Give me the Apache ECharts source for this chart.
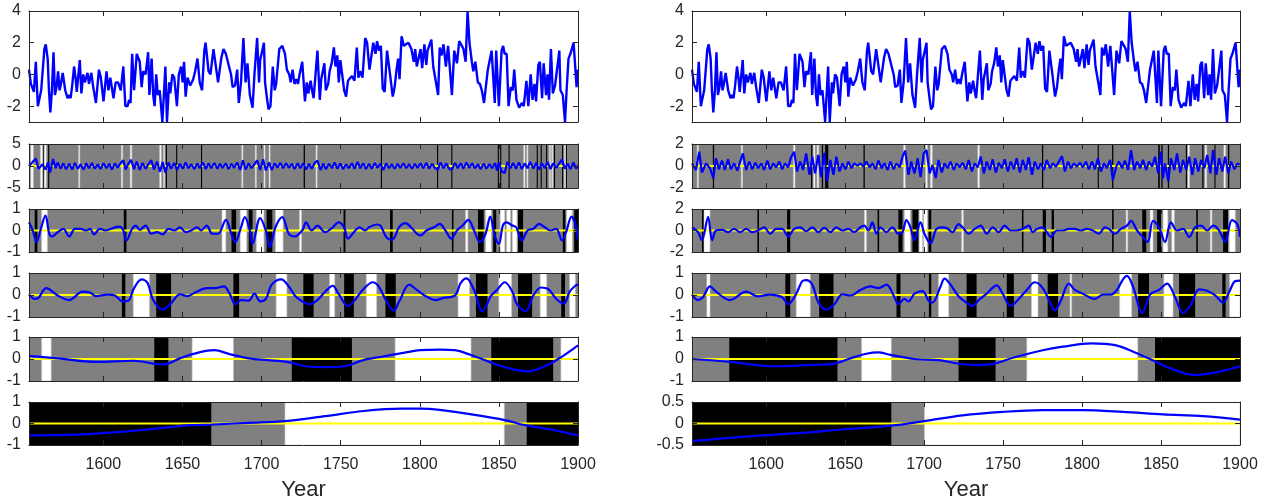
<!DOCTYPE html>
<html><head><meta charset="utf-8">
<script src="https://cdn.jsdelivr.net/npm/echarts@6/dist/echarts.min.js"></script>
<style>html,body{margin:0;padding:0;background:#fff}#c{width:1272px;height:501px}</style>
</head><body><div id="c"></div>
<script>
const X_MIN = 1553, X_MAX = 1900;
const xTickYears = [1600,1650,1700,1750,1800,1850,1900];

// Row 1 (both columns): original series
const seriesRaw = [[1553,0.3],[1554.2,-0.6],[1555.4,-0.7],[1556.1,-1.1],[1557.3,0.8],[1558.6,-2.0],[1559.8,-1.9],[1560.7,-1.0],[1561.5,-0.9],[1562.7,1.6],[1563.6,1.9],[1564.8,1.0],[1565.6,-1.0],[1566.5,-2.4],[1567.5,-1.0],[1568.5,1.4],[1569.4,-1.3],[1570.4,-0.8],[1571.4,0.2],[1572.3,-1.0],[1573.0,-0.7],[1574.3,0.1],[1575.2,0.0],[1575.9,-1.0],[1577.4,-1.5],[1578.4,-1.3],[1579.3,-1.5],[1580.3,-0.7],[1581.5,0.5],[1582.5,-0.3],[1583.2,-1.1],[1585.1,0.9],[1586.1,-1.2],[1587.3,0.0],[1588.3,-0.5],[1590.0,0.1],[1590.9,-0.6],[1592.4,0.1],[1593.6,-0.8],[1595.3,-1.8],[1597.2,0.3],[1598.4,-0.2],[1600.1,-1.7],[1602.0,0.2],[1603.2,-1.0],[1604.4,-0.2],[1606.4,-1.5],[1607.8,-0.5],[1609.3,-0.5],[1611.0,-1.0],[1612.6,0.5],[1613.9,-2.0],[1615.3,-2.0],[1616.3,-1.6],[1617.2,-1.8],[1618.2,1.3],[1619.4,-1.0],[1621.1,1.3],[1623.0,0.8],[1624.2,-0.8],[1625.2,0.2],[1626.7,0.0],[1628.3,1.4],[1629.1,-1.3],[1630.5,1.0],[1631.5,-1.3],[1632.4,-2.0],[1633.4,0.0],[1634.4,-1.3],[1635.6,-1.0],[1637.3,-3.0],[1639.2,0.5],[1640.2,-3.0],[1641.6,-0.5],[1642.3,-1.2],[1643.6,0.0],[1644.8,-0.2],[1645.5,-0.1],[1646.5,-2.0],[1647.7,0.0],[1649.1,0.5],[1650.1,-0.5],[1651.0,0.8],[1652.0,-1.4],[1653.2,-0.2],[1654.9,-0.7],[1656.8,-0.3],[1658.0,0.2],[1659.5,1.0],[1660.9,-0.5],[1662.4,-1.0],[1663.8,1.5],[1664.6,2.0],[1666.5,0.2],[1667.7,0.0],[1669.6,1.6],[1672.5,-0.5],[1674.5,1.0],[1675.9,1.6],[1677.4,1.3],[1678.6,1.2],[1680.7,0.0],[1681.7,-0.8],[1683.2,-0.7],[1684.6,0.3],[1685.6,-1.8],[1687.0,-0.5],[1688.5,2.3],[1689.9,-0.5],[1691.1,0.7],[1692.6,-1.3],[1694.3,-2.1],[1695.5,0.0],[1697.2,2.3],[1698.4,-0.5],[1699.1,0.9],[1700.1,0.9],[1701.5,2.0],[1702.2,-0.5],[1703.4,-1.5],[1704.4,-2.2],[1705.6,-2.0],[1707.1,0.5],[1708.3,-1.0],[1709.2,-0.6],[1711.2,1.6],[1712.4,1.5],[1713.1,1.8],[1714.8,1.3],[1716.0,0.3],[1717.5,0.0],[1718.4,-0.5],[1719.6,0.3],[1720.8,-0.6],[1722.0,-0.3],[1723.0,-0.6],[1724.0,0.0],[1725.7,0.8],[1727.4,-1.7],[1728.6,-0.5],[1729.5,-1.2],[1731.0,-0.4],[1731.9,-1.0],[1732.9,-1.5],[1735.3,1.5],[1736.8,-1.6],[1737.7,-0.3],[1739.7,0.7],[1740.6,-1.0],[1742.1,-0.6],[1743.0,0.2],[1744.3,0.7],[1745.7,1.7],[1746.7,0.5],[1747.9,1.2],[1748.8,-0.5],[1749.8,0.9],[1752.2,-1.0],[1753.4,-1.4],[1754.6,-0.4],[1755.8,-0.5],[1757.1,-0.1],[1758.7,-0.4],[1760.2,1.7],[1761.2,-0.2],[1762.4,0.2],[1763.8,-0.2],[1765.5,2.3],[1766.7,2.0],[1768.2,0.3],[1769.1,0.3],[1770.6,2.0],[1772.0,1.3],[1773.0,2.1],[1774.2,1.5],[1775.4,1.8],[1776.6,-0.9],[1777.8,-1.1],[1779.3,1.5],[1780.2,1.5],[1781.2,0.0],[1782.9,-1.4],[1784.1,-0.8],[1785.3,0.3],[1786.3,1.0],[1787.2,-0.3],[1788.5,2.4],[1789.9,1.8],[1791.3,1.9],[1792.8,2.0],[1793.8,1.8],[1794.7,1.6],[1796.2,0.8],[1797.1,1.6],[1798.1,0.5],[1799.3,0.4],[1800.5,1.6],[1801.5,0.4],[1802.9,1.9],[1804.1,0.6],[1804.9,1.5],[1807.3,2.2],[1808.5,0.5],[1809.7,0.4],[1811.6,-1.3],[1812.6,1.7],[1813.8,1.2],[1815.0,1.9],[1816.5,0.5],[1817.9,1.8],[1820.3,-1.3],[1821.8,1.5],[1823.5,0.7],[1824.9,2.1],[1826.6,1.8],[1827.6,1.6],[1829.0,0.8],[1830.2,4.0],[1831.4,2.0],[1832.9,0.8],[1833.8,0.2],[1835.1,0.8],[1836.7,-0.5],[1838.0,-0.6],[1839.2,-1.0],[1840.6,-1.8],[1841.6,-1.9],[1843.0,0.3],[1844.0,0.4],[1845.4,1.5],[1847.4,-1.8],[1848.3,1.5],[1850.0,-2.0],[1851.7,1.5],[1852.7,1.8],[1853.6,1.3],[1854.9,1.3],[1856.1,-2.0],[1857.5,-0.8],[1858.7,-1.0],[1859.7,0.3],[1861.1,-1.6],[1862.8,-2.1],[1864.5,-1.8],[1865.7,-2.0],[1867.4,-0.4],[1868.6,-2.0],[1870.1,0.0],[1871.3,-1.6],[1872.5,-0.6],[1873.5,-1.7],[1874.9,0.6],[1875.9,0.8],[1877.3,-1.5],[1878.3,0.7],[1879.8,-1.3],[1880.7,0.0],[1881.7,-1.6],[1882.9,1.6],[1884.1,-1.2],[1885.5,-0.7],[1886.7,-0.6],[1888.2,1.5],[1888.9,-1.0],[1890.4,-1.3],[1891.8,-3.0],[1892.8,-1.0],[1894.0,1.0],[1895.2,1.3],[1896.2,1.3],[1897.2,2.0],[1897.9,1.0],[1899.1,-0.8],[1900,0.3]];

// Row 2
const L2_line = [[1553,0],[1557.3,1.7],[1559,-0.6],[1561.5,0.4],[1563.4,-0.8],[1565.1,0.8],[1566.3,-1.5],[1568.2,1.6],[1569.9,-0.5],[1571.1,0.8],[1573,-0.6],[1574.7,0.6],[1576.4,-0.7],[1578.4,0.5],[1580.3,-0.8],[1582,0.7],[1583.9,-0.6],[1585.6,0.4],[1587.5,-0.8],[1589.2,0.6],[1590.9,-0.5],[1592.8,0.7],[1594.5,-0.6],[1596.5,0.4],[1598.2,-0.7],[1600.1,0.6],[1602,-0.5],[1603.7,0.5],[1605.4,-0.8],[1607.3,0.6],[1609,-0.4],[1611,0.7],[1612.6,1.3],[1614.1,-0.8],[1615.8,0.5],[1617.5,1.4],[1619.4,-0.7],[1621.1,1.0],[1623,-0.9],[1624.7,0.7],[1626.7,-0.6],[1628.6,0.5],[1630.3,1.3],[1632,-0.8],[1633.9,1.0],[1635.8,-1.3],[1637.5,0.9],[1639.2,-1.5],[1641.1,0.8],[1642.8,-0.6],[1644.8,0.7],[1646.5,-0.9],[1648.4,0.5],[1650.3,-0.6],[1652,0.8],[1653.7,-0.5],[1655.6,0.4],[1657.6,-0.7],[1659.3,0.6],[1660.9,-0.5],[1662.9,0.8],[1664.8,-0.7],[1666.5,0.6],[1668.2,-0.5],[1670.1,0.7],[1672.1,-0.6],[1673.7,0.5],[1675.4,-0.4],[1677.4,0.6],[1679.1,-0.7],[1681,0.5],[1682.7,-0.4],[1684.6,0.8],[1686.5,-0.9],[1688.2,1.3],[1689.9,-0.8],[1691.9,0.6],[1693.6,-0.5],[1695.5,0.4],[1697.2,1.3],[1699.1,-0.9],[1701,1.5],[1702.7,-1.0],[1704.7,0.8],[1706.4,-0.9],[1708.3,0.6],[1710,-0.4],[1711.9,0.7],[1713.6,-0.5],[1715.5,0.6],[1717.2,-0.4],[1719.1,0.5],[1720.8,-0.7],[1722.8,0.6],[1724.5,-0.5],[1726.4,0.6],[1728.1,-0.8],[1730,0.5],[1731.7,-0.6],[1733.6,0.7],[1735.3,1.2],[1737.3,-0.9],[1739,0.6],[1740.6,-0.7],[1742.6,0.5],[1744.5,-0.5],[1746.2,0.8],[1747.9,-0.6],[1749.8,0.6],[1751.5,-0.7],[1753.4,0.4],[1755.1,-0.5],[1757.1,0.6],[1758.8,-0.6],[1760.7,0.9],[1762.4,-0.5],[1764.3,0.6],[1766,-0.7],[1767.9,0.5],[1769.6,-0.6],[1771.6,0.7],[1773.2,-0.4],[1775.2,0.5],[1776.9,-0.9],[1778.8,0.6],[1780.5,-0.5],[1782.4,0.4],[1784.1,-0.6],[1786,0.5],[1787.7,-0.4],[1789.7,0.6],[1791.4,-0.5],[1793.3,0.4],[1795,-0.6],[1796.9,0.5],[1798.6,-0.4],[1800.5,0.6],[1802.2,-0.5],[1804.2,0.7],[1805.8,-0.6],[1807.8,0.5],[1809.5,-0.4],[1811.4,-0.9],[1813.1,0.8],[1815,-0.5],[1816.7,0.6],[1818.7,-0.7],[1820.3,-0.8],[1822.3,0.7],[1824,-0.5],[1825.9,0.6],[1827.6,-0.6],[1829.5,0.8],[1831.2,-0.4],[1833.1,0.6],[1834.8,-0.5],[1836.8,0.4],[1838.4,-0.7],[1840.4,0.5],[1842.1,-0.6],[1844,0.4],[1845.7,-0.5],[1847.6,0.7],[1848.8,-1.0],[1850,0.8],[1851.7,-1.2],[1853.7,-1.6],[1855.3,0.9],[1857.3,-0.5],[1859,0.7],[1860.9,-0.6],[1862.6,0.8],[1864.5,-0.7],[1866.2,0.6],[1868.1,-0.5],[1869.8,0.9],[1871.8,-0.6],[1873.5,0.7],[1875.4,-0.8],[1877.1,0.6],[1879,-0.5],[1880.7,0.9],[1882.6,-0.7],[1884.3,0.6],[1886.3,-0.4],[1888,0.5],[1889.9,1.5],[1891.6,-0.6],[1893.5,0.5],[1895.2,-0.7],[1897.1,0.8],[1898.8,-0.6],[1900,0.2]];
const R2_line = [[1553,0.24],[1555.5,-0.36],[1557.6,1.3],[1559.3,-0.6],[1561.9,0.24],[1564.4,-0.2],[1566.5,-1.1],[1568.2,0.7],[1570,-0.3],[1572,0.5],[1573.8,-0.36],[1575.8,0.6],[1577.6,-0.3],[1579.7,0.24],[1581.7,-0.42],[1583.5,0.4],[1585.2,1.15],[1587.3,-0.36],[1589.3,0.4],[1591.1,-0.3],[1593.1,0.3],[1594.9,-0.2],[1596.9,0.24],[1598.7,-0.36],[1600.7,0.5],[1602.5,-0.3],[1604.5,0.24],[1606.3,-0.12],[1608.3,0.4],[1610.1,-0.3],[1611.9,0.24],[1613.9,-0.12],[1615.7,0.8],[1617.7,1.3],[1619.5,-0.5],[1621.5,0.4],[1623.3,-0.36],[1625.3,1.15],[1627.4,-0.8],[1629.2,0.85],[1630.9,-0.67],[1633,1.0],[1634.7,-1.0],[1636.8,1.2],[1638.5,-1.4],[1640.6,0.55],[1642.6,-0.8],[1644.4,0.85],[1646.4,-0.5],[1648.2,0.24],[1650.2,-0.3],[1652,0.4],[1654,-0.2],[1655.8,0.24],[1657.8,0],[1659.6,0.24],[1661.6,-0.06],[1663.4,0.4],[1665.5,-0.12],[1667.2,0.24],[1669.3,-0.3],[1671,0.5],[1673.1,-0.2],[1674.8,0.24],[1676.9,-0.36],[1678.6,0.4],[1680.7,-0.3],[1682.5,0.24],[1684.5,-0.12],[1686.3,0.85],[1688,1.4],[1690.1,-0.8],[1691.8,0.4],[1693.9,-0.67],[1695.9,0.7],[1697.7,-1.0],[1699.7,1.15],[1701.5,1.45],[1703.5,-0.67],[1705.3,0.1],[1707.3,-1.1],[1709.1,0.55],[1711.1,-0.6],[1712.9,0.24],[1714.9,-0.2],[1716.7,0.4],[1718.8,-0.36],[1720.5,0.24],[1722.6,-0.12],[1724.3,0.3],[1726.4,-0.3],[1728.2,0.55],[1730.2,-0.5],[1732,0.24],[1734,-0.12],[1735.8,0.85],[1737.8,-0.67],[1739.6,0.4],[1741.6,-0.36],[1743.4,0.6],[1745.4,-0.6],[1747.2,0.3],[1749.2,-0.2],[1751,0.6],[1753,-0.5],[1754.8,0.4],[1756.8,-0.3],[1758.6,0.7],[1760.6,-0.6],[1762.4,0.55],[1764.4,-0.36],[1766.2,0.8],[1768.3,-0.8],[1770,0.4],[1772.1,-0.3],[1773.8,0.24],[1775.9,-0.36],[1777.6,0.55],[1779.7,-0.2],[1781.5,0.24],[1783.5,-0.06],[1785.3,0.4],[1787.3,0.9],[1789.1,-0.5],[1791.1,0.4],[1792.9,-0.2],[1794.9,0.24],[1796.7,-0.06],[1798.7,0.3],[1800.5,-0.12],[1802.5,0.4],[1804.3,-0.3],[1806.3,0.4],[1808.1,-0.3],[1810.1,0.7],[1811.9,-0.5],[1813.9,0.24],[1815.7,-0.2],[1817.8,0.55],[1819.5,-1.3],[1821.6,-0.06],[1823.3,0.4],[1825.4,-0.2],[1827.1,0.5],[1829.2,-0.36],[1831,1.45],[1833,-0.36],[1834.8,0.4],[1836.8,-0.2],[1838.6,0.55],[1840.6,-0.36],[1842.4,0.4],[1844.4,-0.06],[1846.2,0.85],[1848.2,-0.67],[1850,1.3],[1851.3,-1.1],[1852.5,0.24],[1854.6,-1.4],[1856.3,0.7],[1858.4,-0.36],[1860.1,1.15],[1862.2,-0.6],[1863.9,0.55],[1866,-0.36],[1867.8,0.85],[1869.8,-0.8],[1871.6,0.7],[1873.6,-0.5],[1875.4,0.55],[1877.4,-0.2],[1879.2,1.0],[1881.2,-0.67],[1883,1.45],[1885,-0.8],[1886.8,0.7],[1888.8,-0.5],[1890.6,0.85],[1892.6,-0.67],[1894.4,0.4],[1896.5,-0.3],[1898.3,0.24],[1900,0.1]];
const L2_black = [[1561.7,1562.2],[1565.1,1565.8],[1639.5,1640.2],[1646.0,1646.7],[1661.7,1662.4],[1726.6,1727.4],[1775.4,1776.1],[1810.9,1811.6],[1819.9,1820.6],[1849.3,1850.0],[1850.8,1851.5],[1856.1,1856.8],[1873.9,1874.6],[1876.4,1877.1],[1879.8,1880.5],[1884.8,1885.5],[1889.9,1890.6],[1892.3,1893.0]];
const L2_white = [[1554.2,1555.7],[1560.2,1561.5],[1562.7,1563.9],[1584.4,1585.1],[1611.4,1612.2],[1617.0,1618.0],[1635.6,1636.6],[1638.0,1638.7],[1687.5,1688.2],[1696.0,1696.7],[1701.5,1702.2],[1704.7,1705.4],[1734.4,1735.1],[1865.7,1866.5],[1867.7,1868.4],[1881.9,1882.6],[1883.4,1884.1],[1891.4,1892.1]];
const R2_black = [[1566.2,1567.0],[1628.4,1629.2],[1635.2,1636.0],[1637.3,1639.3],[1661.6,1662.4],[1774.6,1775.4],[1809.9,1810.6],[1819.0,1819.8],[1848.2,1849.2],[1850.2,1851.0],[1854.3,1855.1],[1865.7,1866.5],[1876.1,1876.9],[1883.8,1884.5],[1892.4,1893.2]];
const R2_white = [[1556.3,1557.1],[1584.2,1585.0],[1617.2,1618.2],[1629.9,1630.9],[1632.2,1633.2],[1687.0,1688.0],[1701.0,1702.0],[1704.0,1705.1],[1734.0,1735.0],[1867.0,1868.0],[1877.9,1878.9],[1889.8,1890.9]];

// Row 3
const L3_line = [[1553,0.38],[1555.4,0],[1557.8,-0.54],[1560.2,0],[1563.4,0.69],[1565.8,-0.15],[1567.5,-0.28],[1571.1,-0.08],[1574.7,0.08],[1578.4,-0.28],[1582,0.08],[1585.6,0.08],[1589.2,0],[1591.6,0.08],[1594.1,-0.18],[1597.7,0.08],[1601.3,0],[1604.9,0.08],[1609.8,0.18],[1612.2,0.08],[1614.6,-0.46],[1618.2,0.08],[1620.6,0.23],[1623,0.03],[1626.7,0.23],[1630.3,-0.15],[1633.9,-0.08],[1637.5,-0.18],[1641.1,0.08],[1644.8,0],[1648.4,0.15],[1652,-0.08],[1655.6,0],[1659.3,0.15],[1661.7,0],[1665.3,0.23],[1668.9,-0.15],[1672.5,-0.15],[1677.4,0.49],[1681,-0.18],[1683.4,-0.54],[1687,0.15],[1689.4,0.62],[1693.1,-0.15],[1694.3,-0.62],[1699.1,0.58],[1702.7,0],[1705.1,-0.77],[1708.8,0.15],[1713.1,0.62],[1717.2,-0.15],[1720.8,-0.28],[1725.7,0],[1728.1,0.38],[1731.7,0],[1735.3,0.23],[1740.2,-0.08],[1745,0.15],[1748.6,0.38],[1752.2,0.15],[1754.6,-0.38],[1758.3,-0.08],[1761.9,0.15],[1765.5,0],[1767.9,0.15],[1772.8,0.28],[1775.2,0.23],[1778.8,-0.31],[1782.4,-0.43],[1787.2,0.18],[1790.9,0.34],[1794.5,0.15],[1798.1,-0.15],[1800.5,-0.23],[1804.2,0],[1809,0.15],[1812.6,0.31],[1816.2,0],[1819.9,-0.38],[1823.5,0],[1827.1,0.23],[1830.7,0.49],[1834.3,0],[1838,-0.54],[1841.6,-0.15],[1844.5,0.65],[1847.6,-0.31],[1850,-0.62],[1852.5,0.23],[1854.9,0.38],[1858.5,0.23],[1860.9,0.15],[1864.5,-0.46],[1868.1,0],[1871.8,0.08],[1875.4,0.31],[1879,0.15],[1882.6,0],[1886.3,0.08],[1889.9,-0.46],[1892.8,0],[1895.9,0.65],[1898.3,0.31],[1900,-0.46]];
const R3_line = [[1553,0.3],[1556.8,-0.15],[1559.3,-0.9],[1563.2,1.27],[1565.7,-0.9],[1568.2,0],[1572,0.06],[1575.8,-0.15],[1579.7,0.15],[1583.5,-0.15],[1587.3,0.15],[1591.1,-0.15],[1594.9,0],[1598.7,0.3],[1602.5,-0.3],[1606.3,0.15],[1610.1,0.15],[1613.9,-0.55],[1617.7,0.15],[1621.5,0.3],[1625.3,-0.06],[1629.2,0.3],[1633,-0.15],[1636.8,0.24],[1640.6,-0.15],[1644.4,0.3],[1648.2,0],[1652,0.15],[1655.8,-0.15],[1659.6,0.3],[1662.2,0.45],[1664.7,0],[1667.2,0.76],[1669.8,-0.3],[1672.3,0.3],[1676.1,-0.15],[1679.9,0.3],[1683.7,-0.3],[1686.3,-0.15],[1688.8,0.97],[1691.3,0.3],[1693.9,-0.9],[1697.7,0.76],[1700.2,-0.3],[1704,-1.2],[1707.8,0.15],[1711.6,0.3],[1714.2,0.24],[1718,-0.15],[1721.8,0.6],[1724.3,0.3],[1728.2,-0.3],[1732,0.15],[1735.8,0.45],[1739.6,-0.3],[1743.4,0.3],[1747.2,-0.15],[1751,0.45],[1754.8,0],[1758.6,0],[1762.4,0.15],[1766.2,0.45],[1768.8,-0.15],[1771.3,0.15],[1775.1,0.3],[1777.6,-0.15],[1780.2,-0.6],[1784,0],[1787.8,0],[1791.6,0.15],[1795.4,0.15],[1799.2,0],[1803,0.15],[1806.8,0],[1810.6,-0.3],[1814.5,0.3],[1817,0.15],[1820.8,-0.3],[1824.6,0.15],[1828.4,0.45],[1831,0.9],[1834.8,0],[1838.6,-0.6],[1841.6,-1.06],[1844.9,0.9],[1848.7,0.3],[1852.5,-1.06],[1856.3,0.76],[1860.1,0],[1864,0.15],[1867.8,-0.6],[1871.6,0.3],[1875.4,0.45],[1879.2,0],[1883,0.45],[1886.8,0],[1890.6,-1.06],[1894.9,0.97],[1898.2,0.6],[1900,-0.6]];
const L3_black = [[1556.6,1558.3],[1612.9,1614.6],[1681.0,1683.9],[1691.9,1694.3],[1703.2,1706.8],[1751.8,1753.0],[1781.2,1782.9],[1820.3,1821.3],[1836.8,1840.4],[1846.4,1848.3],[1862.1,1865.3],[1890.4,1892.0],[1897.6,1900]];
const L3_white = [[1561.0,1564.6],[1675.0,1677.4],[1686.5,1690.6],[1696.7,1701.5],[1708.8,1713.6],[1724.0,1725.2],[1829.0,1830.4],[1841.6,1845.2],[1850.8,1853.7],[1854.9,1857.3],[1858.5,1861.4],[1892.8,1896.4]];
const R3_black = [[1559.3,1560.6],[1594.4,1595.4],[1613.2,1615.2],[1670.5,1671.5],[1683.7,1686.3],[1692.6,1696.4],[1702.8,1704.5],[1761.9,1762.9],[1775.1,1777.1],[1780.7,1782.2],[1819.0,1820.0],[1838.1,1840.6],[1847.5,1850.0],[1872.3,1873.3],[1889.3,1892.4]];
const R3_white = [[1560.6,1564.4],[1662.2,1663.4],[1687.5,1691.3],[1696.9,1699.0],[1699.7,1702.0],[1723.8,1724.8],[1827.9,1828.9],[1843.1,1844.9],[1851.3,1854.3],[1856.8,1858.4],[1881.2,1882.2],[1893.2,1897.0]];

// Row 4
const L4_line = [[1553,0.02],[1556.6,-0.18],[1559,-0.13],[1563.9,0.31],[1571.1,-0.02],[1578.4,-0.23],[1586.8,0.15],[1591.6,0.11],[1595.3,-0.05],[1602.5,0.02],[1607.3,-0.02],[1612.2,-0.29],[1615.8,-0.26],[1619.4,0.31],[1624.2,0.71],[1627.9,0.55],[1631.5,-0.23],[1637.5,-0.66],[1642.3,-0.42],[1648.4,0.03],[1653.2,-0.05],[1658,0.11],[1665.3,0.31],[1670.1,0.31],[1676.2,0.39],[1679.8,0.06],[1683.4,-0.42],[1687,-0.23],[1691.9,-0.26],[1695.5,0.06],[1699.1,-0.29],[1702.7,-0.18],[1706.4,0.47],[1712.4,0.71],[1717.2,0.39],[1722,-0.1],[1730.5,-0.42],[1735.3,-0.23],[1740.2,0.15],[1745,0.42],[1748.6,0.06],[1754.6,-0.5],[1759.5,-0.18],[1764.3,0.26],[1770.3,0.58],[1774,0.39],[1778.8,-0.26],[1783.6,-0.71],[1787.2,-0.26],[1793.3,0.47],[1798.1,0.23],[1803,-0.02],[1810.2,-0.23],[1815,-0.13],[1822.3,-0.02],[1825.9,0.55],[1829.5,0.76],[1834.3,0.23],[1839.6,-0.74],[1845.2,-0.02],[1848.8,0.23],[1853.7,0.58],[1858.5,0.15],[1861.4,-0.42],[1866.9,-0.74],[1871.8,-0.02],[1876.6,0.34],[1881.4,0.26],[1886.3,-0.18],[1891.1,-0.39],[1894.7,0.15],[1898.3,0.42],[1900,0.47]];
const R4_line = [[1553,0.02],[1556.8,-0.23],[1559.9,-0.1],[1564.4,0.39],[1568.2,0.15],[1577.1,-0.23],[1587.3,0.15],[1594.9,-0.06],[1602.5,0.02],[1610.1,-0.1],[1613.9,-0.42],[1619,0.06],[1622.8,0.63],[1625.3,0.68],[1629.2,0.47],[1633,-0.34],[1638,-0.66],[1643.1,-0.42],[1648.2,0.03],[1653.3,-0.02],[1659.6,0.23],[1666,0.39],[1671,0.31],[1676.1,0.47],[1681.2,-0.1],[1683.7,-0.42],[1687.5,-0.18],[1690.1,-0.29],[1693.9,0.06],[1699,0.18],[1702.8,-0.26],[1705.3,-0.34],[1710.4,0.39],[1712.9,0.74],[1716.7,0.47],[1721.8,-0.06],[1728.2,-0.42],[1730.7,-0.5],[1734.5,-0.23],[1739.6,0.06],[1745.9,0.44],[1749.7,0.06],[1754.8,-0.5],[1759.9,-0.18],[1765,0.23],[1770,0.58],[1775.1,0.31],[1780.2,-0.42],[1782.7,-0.71],[1786.5,-0.26],[1791.6,0.52],[1795.4,0.23],[1800.5,0.06],[1808.1,-0.18],[1813.2,0.02],[1818.3,0.02],[1822.1,0.23],[1825.9,0.71],[1828.4,0.87],[1832.2,0.39],[1838.1,-0.82],[1843.1,0.03],[1848.7,0.23],[1853.8,0.52],[1858.9,-0.1],[1864,-0.82],[1869,-0.42],[1874.1,0.26],[1879.2,0.19],[1884.3,-0.02],[1889.3,-0.34],[1893.2,0.15],[1897,0.63],[1900,0.65]];
const L4_black = [[1611.7,1613.9],[1633.4,1642.8],[1682.2,1685.8],[1726.4,1732.9],[1752.2,1758.3],[1778.3,1784.8],[1835.5,1842.8],[1862.1,1871.0],[1889.4,1891.8]];
const L4_white = [[1618.9,1629.1],[1709.2,1716.0],[1743.0,1746.2],[1766.2,1772.7],[1824.2,1831.4],[1850.0,1858.0],[1876.1,1880.2],[1894.7,1898.3]];
const R4_black = [[1612.1,1615.2],[1633.5,1642.6],[1682.5,1685.0],[1703.0,1704.5],[1726.9,1733.2],[1752.3,1756.8],[1778.2,1784.8],[1835.5,1842.4],[1861.4,1871.6],[1888.8,1890.9]];
const R4_white = [[1562.4,1564.4],[1619.0,1627.9],[1709.1,1715.5],[1768.0,1772.1],[1792.4,1793.4],[1823.8,1831.4],[1851.8,1857.6],[1893.4,1900]];

// Row 5
const L5_line = [[1553,0.14],[1571.1,0.03],[1595.3,-0.13],[1619.4,-0.08],[1631.5,-0.21],[1638.7,-0.24],[1648.4,0.03],[1660.5,0.3],[1670.1,0.4],[1679.8,0.22],[1691.9,0.03],[1703.9,-0.05],[1716,-0.13],[1728.1,-0.33],[1740.2,-0.37],[1752.2,-0.33],[1764.3,-0.05],[1776.4,0.11],[1788.5,0.27],[1800.5,0.4],[1812.6,0.43],[1822.3,0.4],[1831.9,0.19],[1844,-0.13],[1853.7,-0.37],[1868.1,-0.56],[1880.2,-0.29],[1889.9,0.11],[1900,0.62]];
const R5_line = [[1553,0],[1577.1,-0.13],[1605,-0.33],[1627.9,-0.27],[1643.1,-0.21],[1653.3,0.03],[1663.4,0.24],[1671,0.3],[1678.6,0.19],[1693.9,0],[1709.1,-0.05],[1724.3,-0.24],[1734.5,-0.27],[1744.6,-0.21],[1757.3,0.08],[1775.1,0.4],[1787.8,0.56],[1805.6,0.71],[1820.8,0.63],[1833.5,0.3],[1843.6,-0.02],[1853.8,-0.37],[1866.5,-0.68],[1871.6,-0.73],[1881.7,-0.65],[1891.9,-0.49],[1900,-0.33]];
const L5_black = [[1632.2,1641.1],[1719.1,1757.1],[1845.2,1884.3]];
const L5_white = [[1561.0,1567.0],[1656.1,1682.2],[1784.4,1832.4],[1889.2,1900]];
const R5_black = [[1576.6,1645.1],[1721.8,1745.2],[1846.2,1900]];
const R5_white = [[1660.4,1679.2],[1765.0,1835.3]];

// Row 6
const L6_line = [[1553,-0.55],[1583.2,-0.52],[1607.3,-0.41],[1631.5,-0.25],[1655.6,-0.08],[1668.2,-0.05],[1691.9,0.03],[1714.8,0.11],[1740.2,0.34],[1764.3,0.58],[1788.5,0.69],[1800.5,0.69],[1812.6,0.63],[1836.8,0.38],[1853.7,0.16],[1867.4,-0.09],[1885,-0.31],[1900,-0.56]];
const R6_line = [[1553,-0.41],[1584.7,-0.31],[1622.8,-0.22],[1648.2,-0.14],[1679.2,-0.05],[1699,0.05],[1724.3,0.19],[1749.7,0.27],[1775.1,0.31],[1800.5,0.31],[1825.9,0.27],[1851.3,0.21],[1876.6,0.17],[1900,0.09]];
const L6_black = [[1553,1668.2],[1867.6,1900]];
const L6_white = [[1714.8,1853.4]];
const R6_black = [[1553,1679.2]];
const R6_white = [[1700.2,1900]];

const yRangesL = [[-3,4],[-5,5],[-1,1],[-1,1],[-1,1],[-1,1]];
const yRangesR = [[-3,4],[-2,2],[-2,2],[-1,1],[-1,1],[-0.5,0.5]];
const yTicksTop = [-2,0,2,4];

const linesL = [seriesRaw, L2_line, L3_line, L4_line, L5_line, L6_line];
const linesR = [seriesRaw, R2_line, R3_line, R4_line, R5_line, R6_line];
const blackL = [[], L2_black, L3_black, L4_black, L5_black, L6_black];
const whiteL = [[], L2_white, L3_white, L4_white, L5_white, L6_white];
const blackR = [[], R2_black, R3_black, R4_black, R5_black, R6_black];
const whiteR = [[], R2_white, R3_white, R4_white, R5_white, R6_white];

// layout
const COL_LEFT = [29, 692], COL_W = [549, 548];
const ROW_TOP = [11,144,209,273,337,402], ROW_H = [111,44,43,44,44,43];
const AX = '#262626', FONT = '"Liberation Sans", Arial, sans-serif';
const plain = v => String(v);

const grids=[], xAxes=[], yAxes=[], series=[];
let gi = 0;
for (let c=0;c<2;c++){
  for (let r=0;r<6;r++){
    const yr = c===0 ? yRangesL[r] : yRangesR[r];
    const yt = r===0 ? yTicksTop : [yr[0], 0, yr[1]];
    grids.push({left: COL_LEFT[c], top: ROW_TOP[r], width: COL_W[c], height: ROW_H[r],
      show: r>0, backgroundColor: '#808080', borderWidth: 0});
    const axLine = {show:true, onZero:false, lineStyle:{color:AX, width:1}};
    xAxes.push({type:'value', gridIndex:gi, min:X_MIN, max:X_MAX, position:'bottom', z:10,
      axisLine: axLine, splitLine:{show:false},
      axisTick:{show:true, inside:true, length:5, customValues:xTickYears, lineStyle:{color:AX}},
      axisLabel:{show:r===5, customValues:xTickYears, formatter: plain, margin:12, fontSize:16, color:AX, fontFamily:FONT}});
    xAxes.push({type:'value', gridIndex:gi, min:X_MIN, max:X_MAX, position:'top', z:10,
      axisLine: axLine, splitLine:{show:false},
      axisTick:{show:true, inside:true, length:5, customValues:xTickYears, lineStyle:{color:AX}},
      axisLabel:{show:false}});
    yAxes.push({type:'value', gridIndex:gi, min:yr[0], max:yr[1], position:'left', z:10,
      axisLine: axLine, splitLine:{show:false},
      axisTick:{show:true, inside:true, length:5, customValues:yt, lineStyle:{color:AX}},
      axisLabel:{show:true, customValues:yt, formatter: plain, margin:8, fontSize:16, color:AX, fontFamily:FONT}});
    yAxes.push({type:'value', gridIndex:gi, min:yr[0], max:yr[1], position:'right', z:10,
      axisLine: axLine, splitLine:{show:false},
      axisTick:{show:true, inside:true, length:5, customValues:yt, lineStyle:{color:AX}},
      axisLabel:{show:false}});
    const bl = c===0 ? blackL[r] : blackR[r];
    const wh = c===0 ? whiteL[r] : whiteR[r];
    if (r>0){
      const bandData = bl.map(b=>[b[0],b[1],0]).concat(wh.map(b=>[b[0],b[1],1]));
      series.push({type:'custom', xAxisIndex:2*gi, yAxisIndex:2*gi, z:1, silent:true, clip:true,
        encode:{x:[0,1]}, data: bandData,
        renderItem:(params, api)=>{
          const a = api.coord([api.value(0), 0]);
          const b = api.coord([api.value(1), 0]);
          const cs = params.coordSys;
          const white = api.value(2)===1;
          return {type:'rect', shape:{x:a[0], y:cs.y, width:Math.max(b[0]-a[0],1), height:cs.height},
            style:{fill: white ? '#ffffff' : '#000000', stroke: white ? '#c8c8c8' : null, lineWidth: white?0.6:0}};
        }});
      series.push({type:'line', xAxisIndex:2*gi, yAxisIndex:2*gi, z:2, silent:true, symbol:'none',
        data:[[X_MIN,0],[X_MAX,0]], lineStyle:{color:'#ffff00', width:2}});
    }
    series.push({type:'line', xAxisIndex:2*gi, yAxisIndex:2*gi, z:3, silent:true, symbol:'none',
      smooth: r>=2 ? 0.35 : false, clip:true,
      data: c===0 ? linesL[r] : linesR[r], lineStyle:{color:'#0000ff', width: r===0 ? 2.4 : 2.2}});
    gi++;
  }
}

const chart = echarts.init(document.getElementById('c'), null, {renderer:'canvas'});
chart.setOption({
  animation:false,
  grid: grids, xAxis: xAxes, yAxis: yAxes, series: series,
  graphic: [
    {type:'text', x: COL_LEFT[0]+COL_W[0]/2, y: 490, style:{text:'Year', font:'22px '+FONT, fill:AX, align:'center', verticalAlign:'middle', textAlign:'center', textVerticalAlign:'middle'}},
    {type:'text', x: COL_LEFT[1]+COL_W[1]/2, y: 490, style:{text:'Year', font:'22px '+FONT, fill:AX, align:'center', verticalAlign:'middle', textAlign:'center', textVerticalAlign:'middle'}}
  ]
});
</script></body></html>
